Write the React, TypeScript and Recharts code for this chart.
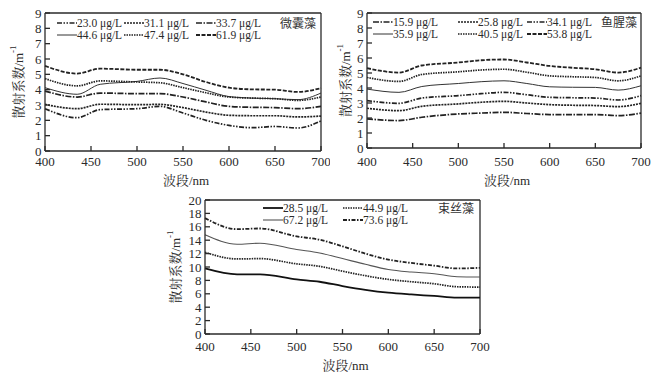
import React from 'react';
import { LineChart, Line, XAxis, YAxis, ReferenceLine, Label } from 'recharts';

// shared x grid (nm)
const wavelengths = [400, 435, 460, 500, 525, 550, 575, 600, 625, 650, 675, 700];
const xTicks = [400, 450, 500, 550, 600, 650, 700];
const smallYTicks = [0, 1, 2, 3, 4, 5, 6, 7, 8, 9];
const bigYTicks = [0, 2, 4, 6, 8, 10, 12, 14, 16, 18, 20];

// 微囊藻
const microNames = ['23.0 μg/L', '31.1 μg/L', '33.7 μg/L', '44.6 μg/L', '47.4 μg/L', '61.9 μg/L'];
const micro230 = [2.76, 2.17, 2.7, 2.76, 2.91, 2.48, 2.0, 1.67, 1.52, 1.6, 1.5, 1.96];
const micro311 = [3.04, 2.76, 3.05, 3.02, 3.04, 2.83, 2.54, 2.33, 2.3, 2.3, 2.22, 2.28];
const micro337 = [3.91, 3.52, 3.78, 3.74, 3.74, 3.52, 3.2, 2.91, 2.85, 2.83, 2.76, 2.91];
const micro446 = [4.13, 3.7, 4.35, 4.54, 4.76, 4.4, 3.96, 3.55, 3.45, 3.41, 3.35, 3.78];
const micro474 = [4.72, 4.25, 4.57, 4.5, 4.45, 4.13, 3.8, 3.52, 3.45, 3.41, 3.3, 3.52];
const micro619 = [5.55, 5.05, 5.37, 5.3, 5.3, 5.0, 4.5, 4.13, 4.02, 4.0, 3.85, 4.1];

// 鱼腥藻
const anaNames = ['15.9 μg/L', '25.8 μg/L', '34.1 μg/L', '35.9 μg/L', '40.5 μg/L', '53.8 μg/L'];
const ana159 = [1.94, 1.83, 2.05, 2.27, 2.33, 2.38, 2.3, 2.23, 2.23, 2.23, 2.16, 2.32];
const ana258 = [2.65, 2.49, 2.78, 2.94, 3.05, 3.11, 3.0, 2.89, 2.85, 2.83, 2.76, 2.98];
const ana341 = [3.16, 2.98, 3.33, 3.49, 3.62, 3.71, 3.55, 3.38, 3.35, 3.33, 3.2, 3.49];
const ana359 = [3.93, 3.71, 4.1, 4.3, 4.42, 4.48, 4.3, 4.08, 4.05, 4.04, 3.86, 4.15];
const ana405 = [4.7, 4.44, 4.9, 5.08, 5.2, 5.25, 5.05, 4.81, 4.75, 4.7, 4.48, 4.81];
const ana538 = [5.32, 5.03, 5.5, 5.7, 5.85, 5.9, 5.7, 5.47, 5.35, 5.25, 5.03, 5.36];

// 束丝藻
const aphNames = ['28.5 μg/L', '44.9 μg/L', '67.2 μg/L', '73.6 μg/L'];
const aph285 = [9.78, 8.9, 8.9, 8.15, 7.8, 7.16, 6.6, 6.17, 5.9, 5.68, 5.43, 5.43];
const aph449 = [12.2, 11.2, 11.25, 10.47, 10.1, 9.38, 8.7, 8.15, 7.8, 7.5, 7.05, 7.0];
const aph672 = [14.8, 13.4, 13.55, 12.6, 12.1, 11.26, 10.4, 9.63, 9.25, 9.0, 8.55, 8.5];
const aph736 = [17.3, 15.65, 15.75, 14.57, 14.07, 13.09, 12.0, 11.1, 10.6, 10.2, 9.78, 9.88];

const FONT = "'Liberation Serif', 'Times New Roman', 'Noto Serif CJK SC', 'Noto Sans CJK SC', serif";
const INK = '#2a2a2a';

type LineStyle = { dash?: string; width: number; color: string };
type Series = LineStyle & { name: string; values: number[] };

const dashDotDot: LineStyle = { dash: '5 1.5 1.5 1.5 1.5 1.5', width: 1.7, color: '#222' };
const fineDots: LineStyle = { dash: '2 1', width: 1.7, color: '#222' };
const dashDot: LineStyle = { dash: '6 1.5 1.5 1.5', width: 1.7, color: '#222' };
const thinSolid: LineStyle = { width: 1, color: '#333' };
const tinyDots: LineStyle = { dash: '1.5 1', width: 1.7, color: '#222' };
const dashed: LineStyle = { dash: '4 1.5', width: 1.8, color: '#222' };

const microSeries: Series[] = [
  { name: microNames[0], values: micro230, ...dashDotDot },
  { name: microNames[1], values: micro311, ...fineDots },
  { name: microNames[2], values: micro337, ...dashDot },
  { name: microNames[3], values: micro446, ...thinSolid },
  { name: microNames[4], values: micro474, ...tinyDots },
  { name: microNames[5], values: micro619, ...dashed },
];

const anaSeries: Series[] = [
  { name: anaNames[0], values: ana159, ...dashDot },
  { name: anaNames[1], values: ana258, ...fineDots },
  { name: anaNames[2], values: ana341, ...dashDotDot },
  { name: anaNames[3], values: ana359, ...thinSolid },
  { name: anaNames[4], values: ana405, ...tinyDots },
  { name: anaNames[5], values: ana538, ...dashed },
];

const aphSeries: Series[] = [
  { name: aphNames[0], values: aph285, width: 1.8, color: '#111' },
  { name: aphNames[1], values: aph449, ...tinyDots },
  { name: aphNames[2], values: aph672, width: 1.1, color: '#555' },
  { name: aphNames[3], values: aph736, dash: '4 1.5 1.5 1.5', width: 1.8, color: '#222' },
];

interface PanelProps {
  left: number;
  top: number;
  width: number;
  height: number;
  margin: { top: number; right: number; bottom: number; left: number };
  xAxisHeight: number;
  xTickMargin: number;
  yMax: number;
  yTicks: number[];
  yLabelX: number;
  xLabelY: number;
  series: Series[];
  cols: number;
  legendX: number[];
  legendY: number[];
  title: string;
  titleX: number;
  titleY: number;
}

function Panel(p: PanelProps) {
  const rows = wavelengths.map((w, i) => {
    const row: Record<string, number> = { w };
    p.series.forEach((s, k) => {
      row['s' + k] = s.values[i];
    });
    return row;
  });

  return (
    <div style={{ position: 'absolute', left: p.left, top: p.top, width: p.width, height: p.height }}>
      <LineChart width={p.width} height={p.height} data={rows} margin={p.margin}>
        <XAxis
          dataKey="w"
          type="number"
          domain={[400, 700]}
          ticks={xTicks}
          interval={0}
          height={p.xAxisHeight}
          tickSize={-5}
          tickMargin={p.xTickMargin}
          axisLine={{ stroke: INK, strokeWidth: 1.3 }}
          tickLine={{ stroke: INK, strokeWidth: 1.3 }}
          tick={{ fill: INK, fontSize: 13, fontFamily: FONT }}
        >
          <Label
            content={(lp: any) => {
              const vb = lp.viewBox;
              return (
                <text x={vb.x + vb.width / 2 + 3} y={p.xLabelY} textAnchor="middle" dominantBaseline="central" fontSize={13} fontFamily={FONT} fill={INK}>
                  波段/nm
                </text>
              );
            }}
          />
        </XAxis>
        <YAxis
          type="number"
          domain={[0, p.yMax]}
          ticks={p.yTicks}
          interval={0}
          width={35}
          tickSize={-5}
          tickMargin={8.5}
          axisLine={{ stroke: INK, strokeWidth: 1.3 }}
          tickLine={{ stroke: INK, strokeWidth: 1.3 }}
          tick={{ fill: INK, fontSize: 13, fontFamily: FONT }}
        >
          <Label
            content={(lp: any) => {
              const vb = lp.viewBox;
              const cy = vb.y + vb.height / 2;
              return (
                <text
                  x={p.yLabelX}
                  y={cy}
                  transform={`rotate(-90 ${p.yLabelX} ${cy})`}
                  textAnchor="middle"
                  dominantBaseline="central"
                  fontSize={13}
                  fontFamily={FONT}
                  fill={INK}
                >
                  散射系数/m<tspan dy={-5} fontSize={9}>-1</tspan>
                </text>
              );
            }}
          />
        </YAxis>
        <ReferenceLine y={p.yMax} stroke={INK} strokeWidth={1.3} />
        <ReferenceLine x={700} stroke={INK} strokeWidth={1.3} />
        {p.series.map((s, k) => (
          <Line
            key={s.name}
            type="monotone"
            dataKey={'s' + k}
            stroke={s.color}
            strokeWidth={s.width}
            strokeDasharray={s.dash}
            dot={false}
            activeDot={false}
            isAnimationActive={false}
          />
        ))}
      </LineChart>
      {p.series.map((s, k) => {
        const col = k % p.cols;
        const row = Math.floor(k / p.cols);
        return (
          <div
            key={'lg' + k}
            style={{
              position: 'absolute',
              left: p.legendX[col],
              top: p.legendY[row] - 7,
              height: 14,
              display: 'flex',
              alignItems: 'center',
              whiteSpace: 'nowrap',
              fontFamily: FONT,
              fontSize: 11.5,
              color: INK,
            }}
          >
            <svg width={20} height={6} style={{ display: 'block' }}>
              <line x1={0} y1={3} x2={20} y2={3} stroke={s.color} strokeWidth={s.width} strokeDasharray={s.dash} />
            </svg>
            <span>{s.name}</span>
          </div>
        );
      })}
      <div
        style={{
          position: 'absolute',
          left: p.titleX,
          top: p.titleY - 8,
          height: 16,
          lineHeight: '16px',
          fontFamily: "'Noto Sans CJK SC', sans-serif",
          fontSize: 12,
          color: '#333',
          whiteSpace: 'nowrap',
        }}
      >
        {p.title}
      </div>
    </div>
  );
}

export default function App() {
  return (
    <div style={{ position: 'absolute', left: 0, top: 0, width: 660, height: 373, background: '#fff', overflow: 'hidden' }}>
      <Panel
        left={0}
        top={0}
        width={330}
        height={190}
        margin={{ top: 13, right: 9, bottom: 0, left: 10 }}
        xAxisHeight={39}
        xTickMargin={11}
        yMax={9}
        yTicks={smallYTicks}
        yLabelX={18}
        xLabelY={180}
        series={microSeries}
        cols={3}
        legendX={[57, 124, 196]}
        legendY={[23, 35]}
        title="微囊藻"
        titleX={280}
        titleY={23}
      />
      <Panel
        left={330}
        top={0}
        width={330}
        height={190}
        margin={{ top: 13, right: 19, bottom: 0, left: 2 }}
        xAxisHeight={42}
        xTickMargin={14}
        yMax={9}
        yTicks={smallYTicks}
        yLabelX={15}
        xLabelY={180}
        series={anaSeries}
        cols={3}
        legendX={[43, 128, 197]}
        legendY={[22, 34]}
        title="鱼腥藻"
        titleX={271}
        titleY={22}
      />
      <Panel
        left={160}
        top={185}
        width={340}
        height={188}
        margin={{ top: 15, right: 20, bottom: 0, left: 10 }}
        xAxisHeight={39}
        xTickMargin={12.5}
        yMax={20}
        yTicks={bigYTicks}
        yLabelX={15}
        xLabelY={180}
        series={aphSeries}
        cols={2}
        legendX={[103, 183]}
        legendY={[23, 35]}
        title="束丝藻"
        titleX={278}
        titleY={23}
      />
    </div>
  );
}
